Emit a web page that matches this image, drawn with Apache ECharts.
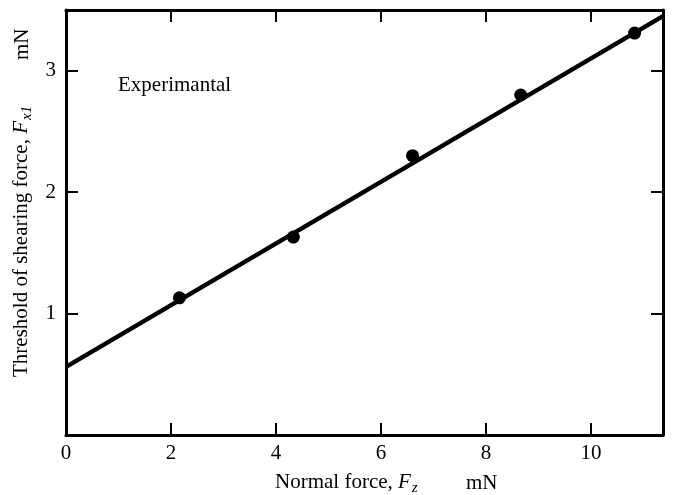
<!DOCTYPE html>
<html><head><meta charset="utf-8">
<script src="https://cdn.jsdelivr.net/npm/echarts@6/dist/echarts.min.js"></script>
<style>html,body{margin:0;padding:0;background:#fff}#c{width:673px;height:495px}</style>
</head><body><div id="c"></div>
<script>
// Experimental points
const normalForce = [2.16, 4.33, 6.60, 8.66, 10.83];
const shearThreshold = [1.13, 1.63, 2.30, 2.80, 3.31];
// Fitted straight line (end points)
const fitX = [0, 11.37];
const fitY = [0.561, 3.45];
// Axis ranges
const xRange = [0, 11.37];
const yRange = [0, 3.5];

const FONT = '"Liberation Serif", "Times New Roman", serif';
const FS = 21;
const chart = echarts.init(document.getElementById('c'), null, {renderer: 'canvas'});

const axisCommon = {
  axisLine: {show: true, onZero: false, lineStyle: {color: '#000', width: 3}},
  axisTick: {show: true, inside: true, length: 12, lineStyle: {color: '#000', width: 2}},
  splitLine: {show: false}
};

const option = {
  backgroundColor: '#fff',
  animation: false,
  grid: {left: 66, right: 10, top: 10, bottom: 60, containLabel: false},
  xAxis: [
    Object.assign({type: 'value', position: 'bottom', min: xRange[0], max: xRange[1], interval: 2,
      axisLabel: {color: '#000', fontSize: FS, fontFamily: FONT, margin: 8, showMaxLabel: false}}, axisCommon),
    Object.assign({type: 'value', position: 'top', min: xRange[0], max: xRange[1], interval: 2,
      axisLabel: {show: false}}, axisCommon)
  ],
  yAxis: [
    Object.assign({type: 'value', position: 'left', min: yRange[0], max: yRange[1], interval: 1,
      axisLabel: {color: '#000', fontSize: FS, fontFamily: FONT, margin: 10, showMinLabel: false, showMaxLabel: false}}, axisCommon),
    Object.assign({type: 'value', position: 'right', min: yRange[0], max: yRange[1], interval: 1,
      axisLabel: {show: false}}, axisCommon)
  ],
  series: [
    {
      type: 'line',
      data: fitX.map((x, i) => [x, fitY[i]]),
      symbol: 'none',
      lineStyle: {color: '#000', width: 4.5},
      z: 2
    },
    {
      type: 'scatter',
      data: normalForce.map((x, i) => [x, shearThreshold[i]]),
      symbol: 'circle',
      symbolSize: 13,
      itemStyle: {color: '#000', opacity: 1},
      z: 3
    }
  ],
  graphic: [
    {type: 'text', x: 118, y: 85, style: {text: 'Experimantal', font: FS + 'px ' + FONT, fill: '#000', textAlign: 'left', textVerticalAlign: 'middle'}},
    {type: 'text', x: 275, y: 483, style: {
      text: '{n|Normal force, }{i|F}{s|z}', fill: '#000', textAlign: 'left', textVerticalAlign: 'middle',
      rich: {
        n: {fontSize: FS, fontFamily: FONT, lineHeight: 23, verticalAlign: 'top'},
        i: {fontSize: FS, fontFamily: FONT, fontStyle: 'italic', lineHeight: 23, verticalAlign: 'top'},
        s: {fontSize: 15, fontFamily: FONT, fontStyle: 'italic', lineHeight: 15, verticalAlign: 'top', padding: [9, 0, 0, 1]}
      }}},
    {type: 'text', x: 466, y: 483, style: {text: 'mN', font: FS + 'px ' + FONT, fill: '#000', textAlign: 'left', textVerticalAlign: 'middle'}},
    {type: 'text', x: 22, y: 377, rotation: Math.PI / 2, style: {
      text: '{n|Threshold of shearing force, }{i|F}{s|x1}', fill: '#000', textAlign: 'left', textVerticalAlign: 'middle',
      rich: {
        n: {fontSize: FS, fontFamily: FONT, lineHeight: 23, verticalAlign: 'top'},
        i: {fontSize: FS, fontFamily: FONT, fontStyle: 'italic', lineHeight: 23, verticalAlign: 'top'},
        s: {fontSize: 15, fontFamily: FONT, fontStyle: 'italic', lineHeight: 15, verticalAlign: 'top', padding: [9, 0, 0, 1]}
      }}},
    {type: 'text', x: 22, y: 60, rotation: Math.PI / 2, style: {text: 'mN', font: FS + 'px ' + FONT, fill: '#000', textAlign: 'left', textVerticalAlign: 'middle'}}
  ]
};
chart.setOption(option);
</script>
</body></html>
